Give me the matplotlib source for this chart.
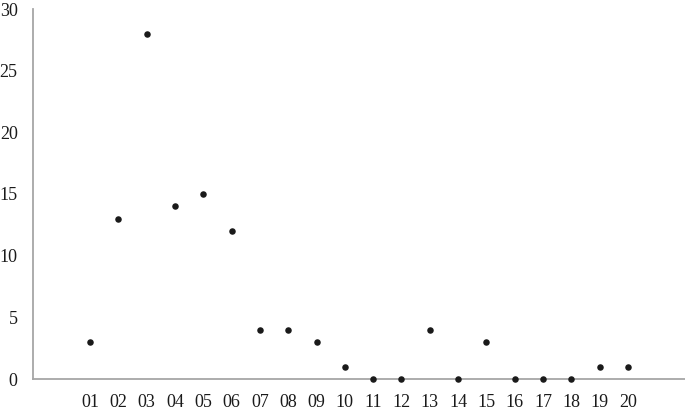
import matplotlib
matplotlib.use("Agg")
import matplotlib.pyplot as plt

categories = ["01","02","03","04","05","06","07","08","09","10",
              "11","12","13","14","15","16","17","18","19","20"]
values = [3,13,28,14,15,12,4,4,3,1,0,0,4,0,3,0,0,0,1,1]
yticks = [0,5,10,15,20,25,30]

plt.rcParams['font.family'] = ['Liberation Serif', 'DejaVu Serif']

fig = plt.figure(figsize=(6.85,4.13), dpi=100)
ax = fig.add_axes([33/685, 34/413, 1-33/685, (379-9)/413])
x = list(range(1, len(categories)+1))
ax.scatter(x, values, s=22, color='#1a1a1a', zorder=3, clip_on=False, linewidths=0)
ax.set_xlim(-1.01, 22.01)
ax.set_ylim(0, 30)
ax.set_xticks(x)
ax.set_xticklabels(categories)
ax.set_yticks(yticks)
for s in ['top','right']:
    ax.spines[s].set_visible(False)
for s in ['left','bottom']:
    ax.spines[s].set_color('#a6a6a6')
    ax.spines[s].set_linewidth(1.3)
ax.tick_params(axis='both', length=0, labelsize=13, colors='#1a1a1a')
ax.tick_params(axis='x', pad=11)
ax.tick_params(axis='y', pad=11)
fig.savefig("out.png", dpi=100)
